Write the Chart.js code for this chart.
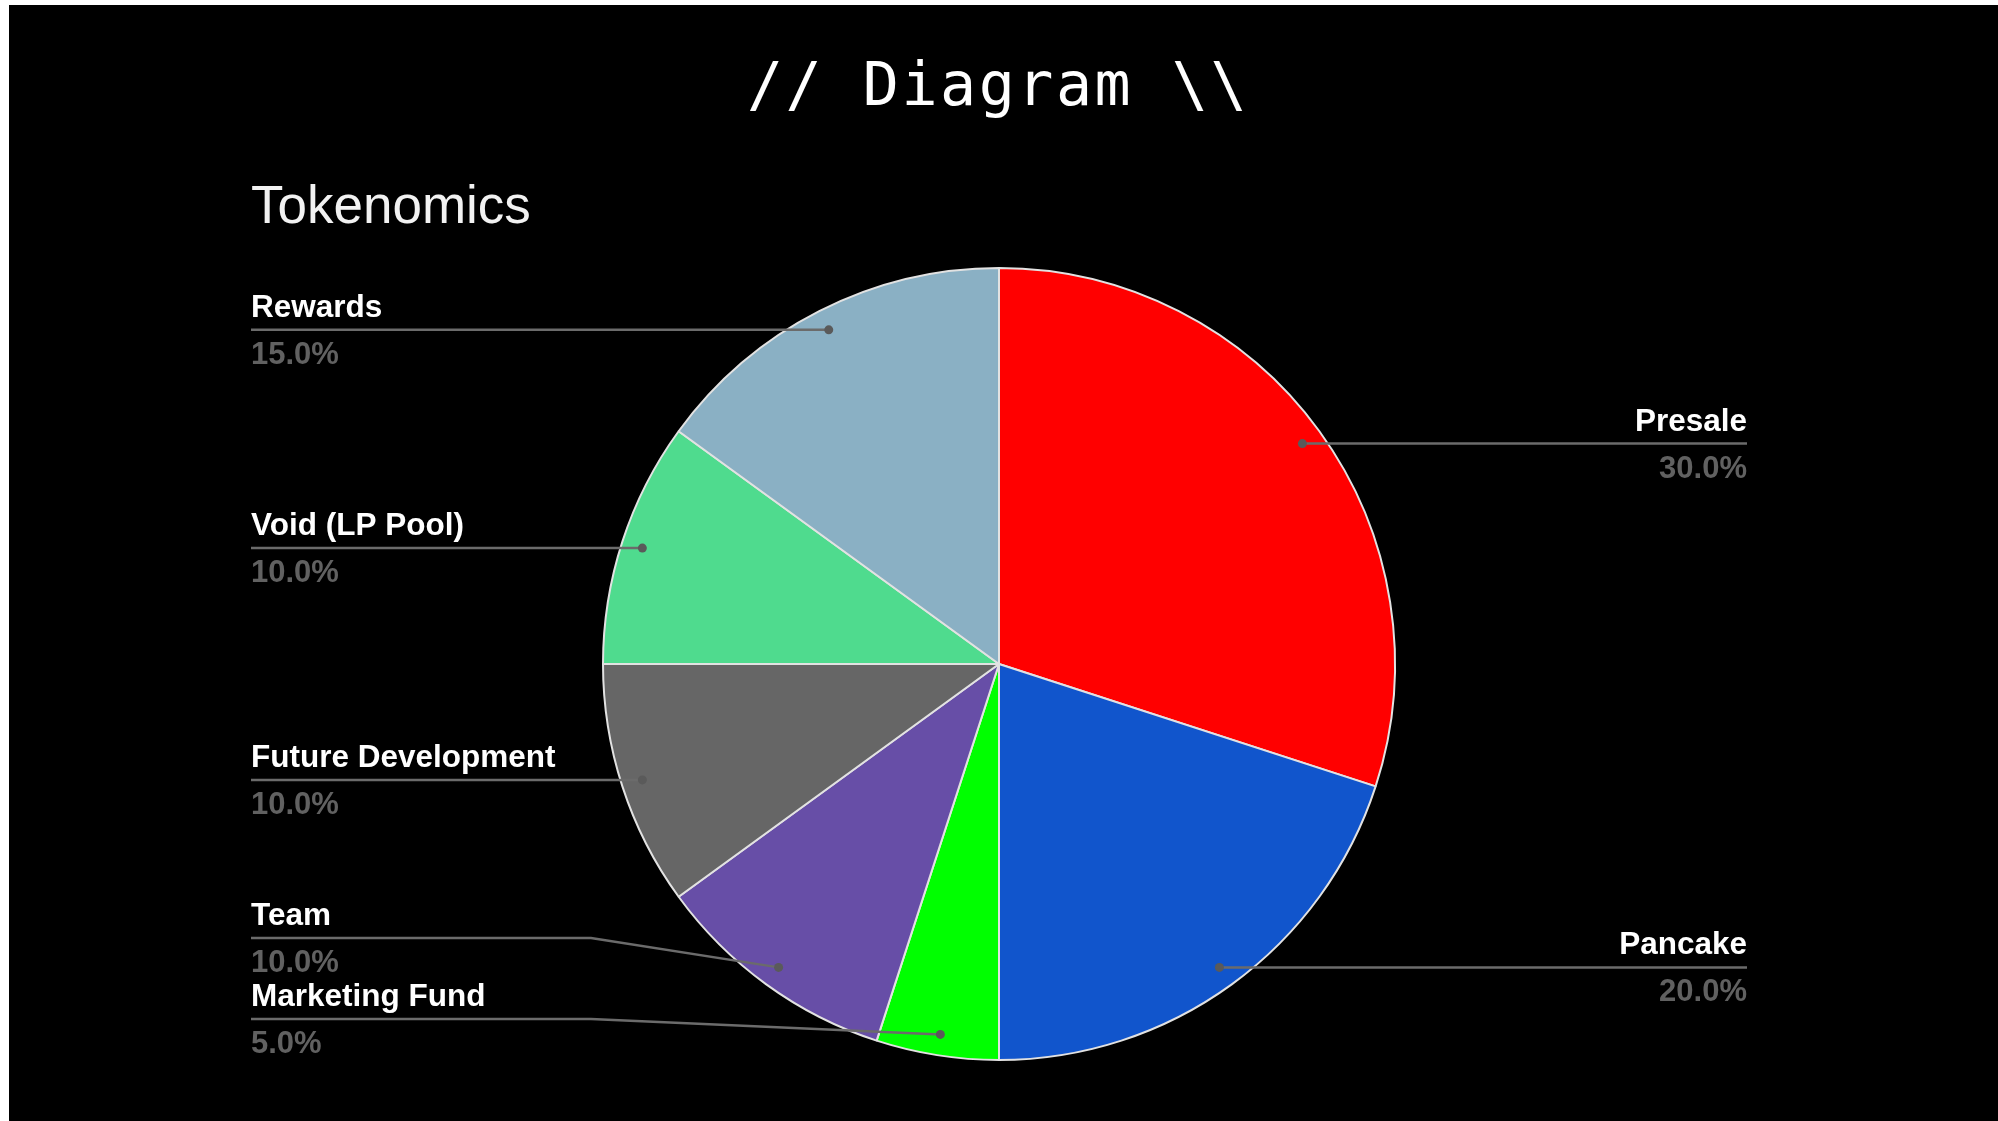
<!DOCTYPE html>
<html>
<head>
<meta charset="utf-8">
<title>Tokenomics</title>
<script src="https://cdn.jsdelivr.net/npm/chart.js@4.4.1/dist/chart.umd.min.js"></script>
<style>
  html, body { margin: 0; padding: 0; background: #fff; overflow: hidden; }
  #wrap { position: absolute; left: 9px; top: 5px; right: 0; bottom: 0; background: #000; }
</style>
</head>
<body>
<div id="wrap"><canvas id="tokenChart"></canvas></div>
<script>
const heading = '// Diagram \\\\';
const chartTitle = 'Tokenomics';
const categories = ['Presale', 'Pancake', 'Marketing Fund', 'Team', 'Future Development', 'Void (LP Pool)', 'Rewards'];
const shares = [30, 20, 5, 10, 10, 10, 15];
const sliceColors = ['#ff0000', '#1155cc', '#00ff00', '#674ea7', '#666666', '#4fdb8e', '#8ab0c4'];

// draws the headings and the google-sheets style side labels with leader lines
const sideLabels = {
  id: 'sideLabels',
  afterDatasetsDraw(chart) {
    const ctx = chart.ctx;
    const meta = chart.getDatasetMeta(0);
    const total = shares.reduce((a, b) => a + b, 0);
    const leftX = 242, rightX = 1738;
    const gap = 81;

    ctx.save();
    ctx.fillStyle = '#ffffff';
    ctx.font = '60px "DejaVu Sans Mono", monospace';
    ctx.letterSpacing = '2.5px';
    ctx.textAlign = 'center';
    ctx.fillText(heading, 989, 100);
    ctx.letterSpacing = '0px';
    ctx.textAlign = 'left';
    ctx.fillStyle = '#f2f2f2';
    ctx.font = '53px "Liberation Sans", Arial, sans-serif';
    ctx.fillText(chartTitle, 242, 218);

    const items = meta.data.map((arc, i) => {
      const p = arc.getProps(['x', 'y', 'startAngle', 'endAngle', 'outerRadius'], true);
      const mid = (p.startAngle + p.endAngle) / 2;
      const r = p.outerRadius - 21;
      const dx = p.x + Math.cos(mid) * r;
      const dy = p.y + Math.sin(mid) * r;
      return {
        i, dx, dy, lineY: dy,
        side: Math.cos(mid) >= 0 ? 'right' : 'left',
        maxY: p.y + p.outerRadius - 41,
        bendX: Math.cos(mid) >= 0 ? p.x + p.outerRadius + 12 : p.x - p.outerRadius - 12
      };
    });

    ['left', 'right'].forEach(side => {
      const group = items.filter(it => it.side === side).sort((a, b) => a.dy - b.dy);
      let limit = Infinity;
      for (let k = group.length - 1; k >= 0; k--) {
        const it = group[k];
        it.lineY = Math.min(it.dy, it.maxY, limit);
        limit = it.lineY - gap;
      }
    });

    items.forEach(it => {
      const textX = it.side === 'left' ? leftX : rightX;
      ctx.strokeStyle = '#6b6b6b';
      ctx.lineWidth = 2.5;
      ctx.beginPath();
      ctx.moveTo(textX, it.lineY);
      if (Math.abs(it.lineY - it.dy) > 0.5) {
        ctx.lineTo(it.bendX, it.lineY);
      }
      ctx.lineTo(it.dx, it.dy);
      ctx.stroke();

      ctx.fillStyle = '#5a5a5a';
      ctx.beginPath();
      ctx.arc(it.dx, it.dy, 4.5, 0, Math.PI * 2);
      ctx.fill();

      ctx.textAlign = it.side === 'left' ? 'left' : 'right';
      ctx.font = 'bold 31.5px "Liberation Sans", Arial, sans-serif';
      ctx.fillStyle = '#ffffff';
      ctx.fillText(categories[it.i], textX, it.lineY - 13);
      ctx.font = 'bold 31px "Liberation Sans", Arial, sans-serif';
      ctx.fillStyle = '#616161';
      ctx.fillText((shares[it.i] / total * 100).toFixed(1) + '%', textX, it.lineY + 34);
    });
    ctx.restore();
  }
};

new Chart(document.getElementById('tokenChart'), {
  type: 'pie',
  data: {
    labels: categories,
    datasets: [{
      data: shares,
      backgroundColor: sliceColors,
      borderColor: '#e2e2e2',
      borderWidth: 2
    }]
  },
  options: {
    responsive: true,
    maintainAspectRatio: false,
    animation: false,
    events: [],
    layout: {
      padding: { top: 262, bottom: 60, left: 0, right: 9 }
    },
    plugins: {
      legend: { display: false },
      tooltip: { enabled: false },
      title: { display: false }
    }
  },
  plugins: [sideLabels]
});
</script>
</body>
</html>
